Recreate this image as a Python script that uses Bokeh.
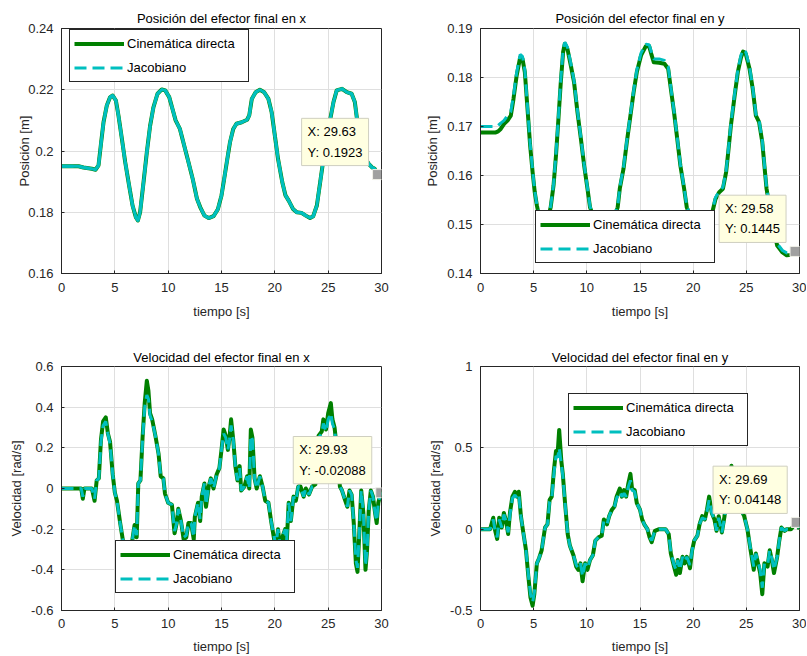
from bokeh.plotting import figure
from bokeh.models import (Legend, LegendItem, Label, FixedTicker, NumeralTickFormatter, Range1d)
from bokeh.layouts import column, row
from bokeh.embed import file_html
from bokeh.resources import INLINE

FONT = "Liberation Sans"
GREEN = "#008000"
CYAN = "#00BFBF"
AX = "#262626"

# ---------------- data ----------------
x_ticks = [0, 5, 10, 15, 20, 25, 30]

# Posición x
t_px = [0, 1.6, 2.06, 2.84, 3.2, 3.47, 3.72, 3.94, 4.25, 4.56,
        4.8, 5.1, 5.34, 5.66, 5.97, 6.34, 6.66, 6.97, 7.16, 7.37,
        7.69, 8.0, 8.31, 8.62, 9.0, 9.4, 9.72, 10.1, 10.4, 10.7,
        11.1, 11.5, 11.9, 12.3, 12.7, 13.0, 13.4, 13.8, 14.25, 14.66,
        15.0, 15.2, 15.5, 15.8, 16.1, 16.4, 16.9, 17.4, 17.6, 17.84,
        18.2, 18.6, 19.0, 19.4, 19.7, 20.0, 20.3, 20.7, 21.0, 21.3,
        21.7, 22.06, 22.5, 22.9, 23.3, 23.6, 23.94, 24.25, 24.56, 24.9,
        25.2, 25.5, 25.8, 26.3, 26.75, 27.2, 27.5, 27.7, 28.0, 28.4,
        28.8, 29.1, 29.35, 29.63]
px_cin = [0.1950, 0.1950, 0.1946, 0.1942, 0.1939, 0.1953, 0.2029, 0.2094, 0.2149, 0.2176,
          0.2181, 0.2165, 0.2116, 0.2040, 0.1964, 0.1887, 0.1822, 0.1784, 0.1773, 0.1800,
          0.1898, 0.1996, 0.2083, 0.2143, 0.2187, 0.2201, 0.2198, 0.2176, 0.2138, 0.2100,
          0.2072, 0.2018, 0.1964, 0.1909, 0.1844, 0.1817, 0.1789, 0.1781, 0.1787, 0.1810,
          0.1855, 0.1898, 0.1964, 0.2029, 0.2072, 0.2089, 0.2094, 0.2102, 0.2116, 0.2170,
          0.2192, 0.2200, 0.2192, 0.2170, 0.2127, 0.2051, 0.1974, 0.1898, 0.1855, 0.1838,
          0.1811, 0.1800, 0.1798, 0.1789, 0.1781, 0.1787, 0.1822, 0.1898, 0.1974, 0.2051,
          0.2105, 0.2160, 0.2198, 0.2203, 0.2192, 0.2187, 0.2160, 0.2105, 0.2040, 0.1980,
          0.1958, 0.1947, 0.1942, 0.1923]
px_jac = [0.1950, 0.1950, 0.1946, 0.1942, 0.1939, 0.1953, 0.2029, 0.2094, 0.2149, 0.2176,
          0.2181, 0.2165, 0.2116, 0.2040, 0.1964, 0.1887, 0.1822, 0.1784, 0.1773, 0.1800,
          0.1898, 0.1996, 0.2083, 0.2143, 0.2187, 0.2201, 0.2198, 0.2176, 0.2138, 0.2100,
          0.2072, 0.2018, 0.1964, 0.1909, 0.1844, 0.1817, 0.1789, 0.1781, 0.1787, 0.1810,
          0.1855, 0.1898, 0.1964, 0.2029, 0.2072, 0.2089, 0.2094, 0.2102, 0.2116, 0.2170,
          0.2192, 0.2200, 0.2192, 0.2170, 0.2127, 0.2051, 0.1974, 0.1898, 0.1855, 0.1838,
          0.1811, 0.1800, 0.1798, 0.1789, 0.1781, 0.1787, 0.1822, 0.1898, 0.1974, 0.2051,
          0.2105, 0.2160, 0.2198, 0.2203, 0.2192, 0.2187, 0.2160, 0.2105, 0.2040, 0.1980,
          0.1958, 0.1947, 0.1942, 0.1923]
px_yticks = [0.16, 0.18, 0.20, 0.22, 0.24]

# Posición y
t_py = [0, 1.44, 1.66, 1.9, 2.2, 2.54, 2.85, 3.1, 3.4, 3.73,
        3.95, 4.17, 4.42, 4.67, 4.9, 5.1, 5.3, 5.9, 6.6, 6.87,
        7.1, 7.33, 7.55, 7.77, 7.93, 8.18, 8.5, 8.8, 9.12, 9.44,
        9.75, 10.06, 10.3, 11.6, 12.9, 13.1, 13.45, 13.76, 14.1, 14.4,
        14.7, 15.1, 15.55, 15.86, 16.1, 16.3, 16.8, 17.3, 17.65, 17.9,
        18.2, 18.5, 18.8, 19.15, 19.4, 20.6, 21.8, 22.1, 22.45, 22.8,
        23.1, 23.3, 23.55, 23.9, 24.2, 24.5, 24.7, 24.95, 25.3, 25.6,
        25.9, 26.2, 26.5, 26.7, 26.9, 27.3, 27.9, 28.4, 28.8, 29.2,
        29.58]
py_cin = [0.1688, 0.1688, 0.1690, 0.1695, 0.1705, 0.1712, 0.1722, 0.1756, 0.1804, 0.1841,
          0.1838, 0.1811, 0.1736, 0.1661, 0.1607, 0.1566, 0.1539, 0.1475, 0.1535, 0.1580,
          0.1641, 0.1716, 0.1790, 0.1852, 0.1869, 0.1858, 0.1824, 0.1790, 0.1729, 0.1675,
          0.1620, 0.1573, 0.1535, 0.1460, 0.1535, 0.1573, 0.1614, 0.1668, 0.1722, 0.1770,
          0.1811, 0.1845, 0.1864, 0.1864, 0.1845, 0.1831, 0.1830, 0.1828, 0.1818, 0.1777,
          0.1729, 0.1675, 0.1620, 0.1573, 0.1535, 0.1465, 0.1525, 0.1552, 0.1566, 0.1573,
          0.1607, 0.1648, 0.1702, 0.1763, 0.1811, 0.1841, 0.1853, 0.1848, 0.1818, 0.1777,
          0.1722, 0.1709, 0.1668, 0.1620, 0.1573, 0.1520, 0.1457, 0.1443, 0.1437, 0.1438,
          0.1445]
py_jac = [0.1700, 0.1700, 0.1702, 0.1707, 0.1712, 0.1722, 0.1730, 0.1762, 0.1810, 0.1847,
          0.1843, 0.1815, 0.1740, 0.1665, 0.1610, 0.1568, 0.1540, 0.1478, 0.1537, 0.1582,
          0.1645, 0.1720, 0.1795, 0.1857, 0.1872, 0.1862, 0.1828, 0.1793, 0.1732, 0.1678,
          0.1622, 0.1575, 0.1537, 0.1463, 0.1537, 0.1576, 0.1617, 0.1671, 0.1725, 0.1773,
          0.1815, 0.1850, 0.1868, 0.1867, 0.1850, 0.1838, 0.1838, 0.1835, 0.1822, 0.1780,
          0.1731, 0.1677, 0.1622, 0.1575, 0.1537, 0.1468, 0.1528, 0.1555, 0.1568, 0.1576,
          0.1610, 0.1651, 0.1706, 0.1767, 0.1815, 0.1846, 0.1857, 0.1852, 0.1822, 0.1780,
          0.1725, 0.1712, 0.1671, 0.1623, 0.1576, 0.1524, 0.1461, 0.1447, 0.1442, 0.1442,
          0.1447]
py_yticks = [0.14, 0.15, 0.16, 0.17, 0.18, 0.19]

# Velocidad x
t_vx = [0, 1.85, 2.0, 2.15, 2.85, 3.1, 3.3, 3.5, 3.7, 3.9,
        4.15, 4.35, 4.55, 4.8, 5.0, 5.2, 5.5, 5.8, 6.1, 6.4,
        6.65, 6.85, 7.05, 7.2, 7.4, 7.6, 7.8, 8.0, 8.15, 8.3,
        8.5, 8.8, 9.1, 9.3, 9.55, 9.7, 10.0, 10.35, 10.6, 10.8,
        10.95, 11.2, 11.45, 11.7, 11.9, 12.15, 12.4, 12.5, 12.8, 13.0,
        13.15, 13.4, 13.55, 13.8, 14.0, 14.25, 14.55, 14.8, 15.0, 15.2,
        15.4, 15.6, 15.75, 15.9, 16.1, 16.3, 16.5, 16.7, 16.85, 17.15,
        17.4, 17.6, 17.75, 17.9, 18.1, 18.3, 18.6, 18.85, 19.1, 19.4,
        19.65, 19.9, 20.1, 20.3, 20.5, 20.7, 20.97, 21.1, 21.3, 21.5,
        21.75, 21.97, 22.2, 22.4, 22.7, 22.9, 23.2, 23.5, 23.8, 24.1,
        24.4, 24.55, 24.8, 25.0, 25.25, 25.4, 25.6, 25.9, 26.1, 26.3,
        26.6, 26.8, 27.0, 27.2, 27.4, 27.6, 27.75, 27.9, 28.1, 28.3,
        28.5, 28.65, 28.8, 29.0, 29.2, 29.4, 29.55, 29.7, 29.93, 30.0]
vx_cin = [0, 0, -0.05, 0, 0, -0.06, 0.04, 0.05, 0.24, 0.33,
          0.35, 0.27, 0.23, 0.07, -0.02, -0.06, -0.17, -0.27, -0.34, -0.33,
          -0.25, -0.18, -0.24, 0.025, 0.04, 0.25, 0.42, 0.53, 0.48, 0.37,
          0.34, 0.26, 0.17, 0.06, 0.05, -0.025, -0.07, -0.08, -0.22, -0.17,
          -0.10, -0.16, -0.25, -0.24, -0.17, -0.17, -0.25, -0.14, -0.07, -0.16,
          -0.04, 0.025, -0.09, 0.01, 0.05, 0.0, 0.07, 0.10, 0.19, 0.29,
          0.26, 0.19, 0.25, 0.34, 0.24, 0.11, 0.04, 0.11, -0.01, 0.01,
          0.06, 0.0, 0.29, 0.25, 0.05, 0.0, 0.06, 0.01, -0.06, -0.07,
          -0.16, -0.24, -0.30, -0.20, -0.30, -0.24, -0.20, -0.28, -0.07, -0.16,
          -0.04, -0.06, 0.01, 0.01, -0.04, 0.0, -0.03, 0.01, 0.02, 0.26,
          0.28, 0.34, 0.29, 0.37, 0.42, 0.34, 0.30, 0.15, 0.01, -0.01,
          -0.06, -0.09, -0.01, -0.03, -0.17, -0.37, -0.41, -0.24, -0.01, -0.12,
          -0.40, -0.30, -0.11, -0.01, -0.04, -0.12, -0.17, -0.07, -0.02088, -0.03]
vx_jac = [0, 0, -0.04, 0, 0, -0.05, 0.04, 0.05, 0.23, 0.31,
          0.33, 0.27, 0.22, 0.07, -0.02, -0.06, -0.17, -0.27, -0.33, -0.32,
          -0.25, -0.18, -0.23, 0.025, 0.04, 0.24, 0.40, 0.46, 0.44, 0.36,
          0.33, 0.26, 0.17, 0.06, 0.05, -0.025, -0.07, -0.08, -0.21, -0.17,
          -0.10, -0.16, -0.24, -0.23, -0.17, -0.17, -0.24, -0.14, -0.07, -0.15,
          -0.04, 0.025, -0.08, 0.01, 0.05, 0.0, 0.07, 0.10, 0.19, 0.27,
          0.25, 0.19, 0.24, 0.31, 0.24, 0.11, 0.04, 0.10, -0.01, 0.01,
          0.06, 0.0, 0.26, 0.24, 0.05, 0.0, 0.06, 0.01, -0.06, -0.07,
          -0.16, -0.23, -0.28, -0.20, -0.28, -0.24, -0.20, -0.26, -0.07, -0.16,
          -0.04, -0.06, 0.01, 0.01, -0.04, 0.0, -0.03, 0.01, 0.02, 0.25,
          0.27, 0.32, 0.28, 0.34, 0.37, 0.32, 0.29, 0.15, 0.01, -0.01,
          -0.06, -0.09, -0.01, -0.03, -0.17, -0.35, -0.39, -0.24, -0.01, -0.12,
          -0.38, -0.30, -0.11, -0.01, -0.04, -0.12, -0.16, -0.07, -0.02088, -0.03]
vx_yticks = [-0.6, -0.4, -0.2, 0, 0.2, 0.4, 0.6]

# Velocidad y
t_vy = [0, 0.9, 1.2, 1.35, 1.57, 1.76, 2.0, 2.2, 2.4, 2.6,
        2.77, 3.0, 3.24, 3.46, 3.6, 3.8, 4.0, 4.28, 4.5, 4.7,
        4.9, 5.06, 5.3, 5.5, 5.75, 6.07, 6.3, 6.5, 6.7, 6.9,
        7.1, 7.26, 7.4, 7.6, 7.74, 7.95, 8.2, 8.4, 8.74, 9.0,
        9.2, 9.4, 9.6, 9.84, 10.06, 10.3, 10.57, 10.8, 11.1, 11.4,
        11.6, 11.9, 12.1, 12.36, 12.6, 12.8, 13.1, 13.3, 13.5, 13.7,
        13.9, 14.1, 14.25, 14.5, 14.7, 15.0, 15.2, 15.4, 15.7, 15.9,
        16.1, 16.4, 16.8, 17.1, 17.4, 17.7, 17.9, 18.2, 18.4, 18.55,
        18.75, 19.0, 19.2, 19.4, 19.7, 19.9, 20.1, 20.4, 20.6, 20.85,
        21.1, 21.3, 21.5, 21.75, 22.0, 22.2, 22.4, 22.7, 22.95, 23.2,
        23.6, 23.9, 24.2, 24.5, 24.8, 25.1, 25.4, 25.7, 25.9, 26.1,
        26.3, 26.5, 26.7, 27.0, 27.2, 27.4, 27.6, 27.9, 28.1, 28.3,
        28.6, 28.8, 29.2, 29.69, 30.0]
vy_cin = [0, 0, 0.07, 0, -0.06, 0.07, 0.01, 0.10, 0.05, -0.03,
          0.10, 0.20, 0.23, 0.20, 0.23, 0.08, -0.01, -0.13, -0.29, -0.42,
          -0.47, -0.40, -0.21, -0.18, -0.13, 0.01, 0.03, 0.18, 0.20, 0.36,
          0.48, 0.47, 0.61, 0.42, 0.34, 0.16, -0.03, -0.10, -0.16, -0.23,
          -0.25, -0.21, -0.32, -0.21, -0.25, -0.19, -0.16, -0.07, -0.05, -0.04,
          0.06, 0.03, 0.08, 0.12, 0.14, 0.20, 0.25, 0.20, 0.24, 0.20,
          0.28, 0.34, 0.25, 0.24, 0.16, 0.12, 0.06, 0.03, 0.0, -0.05,
          -0.08, -0.01, 0.0, 0.0, 0.0, -0.03, -0.15, -0.23, -0.28, -0.19,
          -0.27, -0.17, -0.21, -0.17, -0.24, -0.13, -0.07, -0.04, 0.03, 0.08,
          0.06, 0.12, 0.20, 0.10, 0.06, -0.01, 0.08, -0.02, 0.08, 0.25,
          0.39, 0.22, 0.15, 0.12, 0.08, 0.0, -0.13, -0.25, -0.15, -0.21,
          -0.27, -0.40, -0.21, -0.23, -0.13, -0.19, -0.27, -0.17, -0.07, 0.01,
          -0.01, 0.0, 0.0, 0.04148, 0.0]
vy_jac = [0, 0, 0.06, 0, -0.05, 0.06, 0.01, 0.09, 0.05, -0.02,
          0.09, 0.19, 0.21, 0.19, 0.21, 0.08, -0.01, -0.13, -0.28, -0.40,
          -0.45, -0.39, -0.21, -0.18, -0.13, 0.01, 0.03, 0.17, 0.19, 0.34,
          0.45, 0.44, 0.50, 0.40, 0.33, 0.16, -0.03, -0.10, -0.16, -0.22,
          -0.24, -0.21, -0.29, -0.21, -0.24, -0.19, -0.16, -0.07, -0.05, -0.04,
          0.05, 0.03, 0.08, 0.12, 0.14, 0.19, 0.23, 0.20, 0.22, 0.20,
          0.26, 0.30, 0.24, 0.23, 0.16, 0.12, 0.06, 0.03, 0.0, -0.05,
          -0.07, -0.01, 0.0, 0.0, 0.0, -0.03, -0.14, -0.22, -0.25, -0.19,
          -0.25, -0.17, -0.20, -0.17, -0.22, -0.13, -0.07, -0.04, 0.03, 0.07,
          0.06, 0.11, 0.18, 0.10, 0.06, -0.01, 0.07, -0.02, 0.07, 0.23,
          0.34, 0.21, 0.15, 0.12, 0.08, 0.0, -0.12, -0.23, -0.15, -0.20,
          -0.25, -0.36, -0.21, -0.22, -0.13, -0.18, -0.25, -0.17, -0.07, 0.01,
          -0.01, 0.0, 0.0, 0.04148, 0.0]
vy_yticks = [-0.5, 0, 0.5, 1]

series_names = ["Cinemática directa", "Jacobiano"]
tip_x = [29.63, 29.58, 29.93, 29.69]
tip_y = [0.1923, 0.1445, -0.02088, 0.04148]


def panel(title, ylabel, t, y_cin, y_jac, yr, yticks, legend_xy, tip_i,
          ylab_standoff, borders, frame_w, frame_h, xstand, title_standoff,
          jac_dashed=True):
    bl, br, bt, bb = borders
    p = figure(frame_width=frame_w, frame_height=frame_h,
               min_border_left=bl, min_border_right=br,
               min_border_top=bt, min_border_bottom=bb,
               x_range=Range1d(0, 30), y_range=Range1d(*yr),
               output_backend="svg", toolbar_location=None,
               x_axis_label="tiempo [s]", y_axis_label=ylabel, title=title)
    p.background_fill_color = "white"
    p.border_fill_color = "white"
    p.outline_line_color = AX
    p.outline_line_width = 1
    p.outline_line_alpha = 1

    p.title.align = "center"
    p.title.text_font = FONT
    p.title.text_font_size = "13px"
    p.title.text_font_style = "normal"
    p.title.text_color = "#000000"
    p.title.standoff = title_standoff

    xa = p.below[0]
    ya = p.left[0]
    for ax, ticks in ((xa, x_ticks), (ya, yticks)):
        ax.ticker = FixedTicker(ticks=ticks)
        ax.formatter = NumeralTickFormatter(format="0.[0000]")
        ax.major_tick_in = 3
        ax.major_tick_out = 0
        ax.minor_tick_line_color = None
        ax.major_tick_line_color = AX
        ax.axis_line_color = AX
        ax.major_label_text_font = FONT
        ax.major_label_text_font_size = "13px"
        ax.major_label_text_color = AX
        ax.axis_label_text_font = FONT
        ax.axis_label_text_font_size = "13px"
        ax.axis_label_text_font_style = "normal"
        ax.axis_label_text_color = AX
    xa.major_label_standoff = xstand[0]
    xa.axis_label_standoff = xstand[1]
    ya.major_label_standoff = 8
    ya.axis_label_standoff = ylab_standoff

    p.xgrid.ticker = FixedTicker(ticks=x_ticks)
    p.ygrid.ticker = FixedTicker(ticks=yticks)
    p.grid.grid_line_color = "#DFDFDF"
    p.grid.grid_line_width = 1

    r1 = p.line(t, y_cin, line_color=GREEN, line_width=4, line_join="round")
    r2 = p.line(t, y_jac, line_color=CYAN, line_width=3, line_dash="12 6")
    if not jac_dashed:
        # in this panel the Jacobiano trace shows as a continuous cyan line
        p.line(t, y_jac, line_color=CYAN, line_width=3, line_join="round")

    leg = Legend(items=[LegendItem(label=series_names[0], renderers=[r1]),
                        LegendItem(label=series_names[1], renderers=[r2])],
                 location=legend_xy, margin=0, padding=4, spacing=5,
                 glyph_width=50, glyph_height=19, label_height=19,
                 label_width=117, label_standoff=3,
                 label_text_font=FONT, label_text_font_size="13px",
                 label_text_color="#000000",
                 border_line_color=AX, border_line_width=1, border_line_alpha=1,
                 background_fill_color="white", background_fill_alpha=1)
    p.add_layout(leg)

    tx, ty = tip_x[tip_i], tip_y[tip_i]
    p.scatter([tx], [ty], marker="square", size=10, fill_color="#A0A0A0",
              line_color="#F0F0E8", line_width=1)
    lab = Label(x=tx, y=ty, text=f"X: {tx:g}\nY: {ty:.4g}", anchor="bottom_right",
                x_offset=-9, y_offset=9, text_font=FONT, text_font_size="13px",
                text_color="#000000", text_line_height=1.35,
                background_fill_color="#FFFFE1", background_fill_alpha=1,
                border_line_color="#CFCFC0", border_line_width=1, padding=6)
    p.add_layout(lab)
    return p


p1 = panel("Posición del efector final en x", "Posición [m]", t_px, px_cin, px_jac,
           (0.16, 0.24), px_yticks, (8, 191), 0, -7, (61, 37, 28, 49), 320, 245,
           (9, 9), 5, jac_dashed=False)
p2 = panel("Posición del efector final en y", "Posición [m]", t_py, py_cin, py_jac,
           (0.14, 0.19), py_yticks, (55, 10), 1, 4, (62, 7, 28, 49), 319, 245,
           (9, 9), 5)
p3 = panel("Velocidad del efector final en x", "Velocidad [rad/s]", t_vx, vx_cin, vx_jac,
           (-0.6, 0.6), vx_yticks, (54, 17), 2, 4, (61, 37, 44, 45), 320, 244,
           (8, 8), 4)
p4 = panel("Velocidad del efector final en y", "Velocidad [rad/s]", t_vy, vy_cin, vy_jac,
           (-0.5, 1.0), vy_yticks, (88, 164), 3, 4, (62, 7, 44, 45), 319, 244,
           (8, 8), 4)

layout = column(row(p1, p2), row(p3, p4))
open("out.html", "w").write(file_html(layout, INLINE, title="Efector final"))
